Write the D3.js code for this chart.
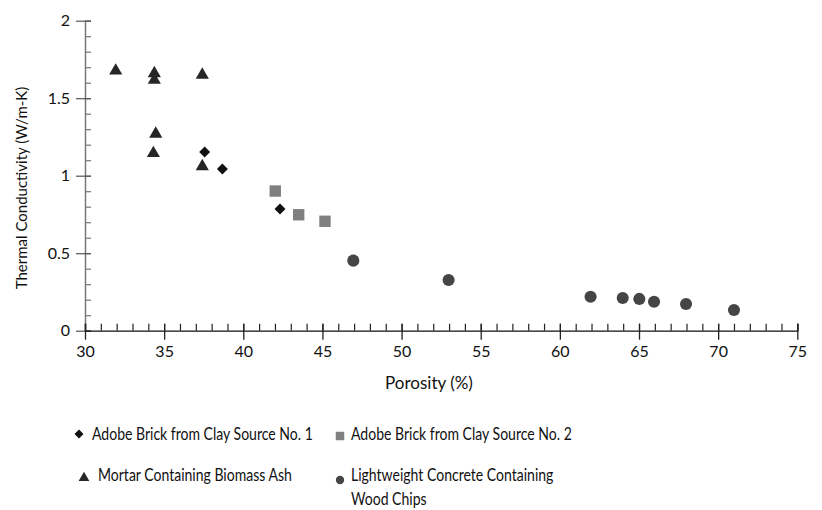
<!DOCTYPE html>
<html><head><meta charset="utf-8">
<script src="https://cdn.jsdelivr.net/npm/d3@7"></script>
<style>body{margin:0;background:#fff;} text{font-family:Lato, "Open Sans", sans-serif;fill:#111;}</style>
</head><body><svg id="c" width="822" height="510"></svg>
<script>
// Data
const adobe1X = [37.56, 38.68, 42.32];
const adobe1Y = [1.153, 1.043, 0.785];
const adobe2X = [42.02, 43.5, 45.16];
const adobe2Y = [0.901, 0.748, 0.706];
const mortarX = [31.94, 34.38, 34.38, 37.41, 34.47, 34.32, 37.41];
const mortarY = [1.677, 1.66, 1.617, 1.65, 1.27, 1.145, 1.06];
const concreteX = [46.95, 52.97, 61.94, 63.97, 65.02, 65.95, 67.97, 71.0];
const concreteY = [0.452, 0.327, 0.219, 0.211, 0.205, 0.187, 0.172, 0.134];
const xTicks = [30, 35, 40, 45, 50, 55, 60, 65, 70, 75];
const yTicks = [0, 0.5, 1, 1.5, 2];
const seriesNames = ["Adobe Brick from Clay Source No. 1", "Adobe Brick from Clay Source No. 2",
  "Mortar Containing Biomass Ash", "Lightweight Concrete Containing Wood Chips"];

const svg = d3.select("#c");
const x = d3.scaleLinear().domain([30, 75]).range([85, 797.3]);
const y = d3.scaleLinear().domain([0, 2]).range([330.7, 20.7]);

// Y axis
const gy = svg.append("g").attr("transform", "translate(85,0)");
gy.call(d3.axisRight(y).tickValues(d3.range(0, 2.001, 0.1)).tickSize(6).tickFormat(""));
gy.select(".domain").attr("stroke", "#777").attr("stroke-width", 1.5);
gy.selectAll(".tick line").attr("stroke", "#777").attr("stroke-width", 1.2);
const gy2 = svg.append("g").attr("transform", "translate(85,0)");
gy2.call(d3.axisLeft(y).tickValues(yTicks).tickSize(9).tickPadding(6).tickFormat(d => d));
gy2.select(".domain").remove();
gy2.selectAll(".tick line").attr("stroke", "#555").attr("stroke-width", 1.2).attr("x2", -9).attr("x1", 6);
gy2.selectAll(".tick text").style("font-size", "16px").attr("fill", "#111").style("font-family", "Lato, sans-serif");

// X axis
const gx = svg.append("g").attr("transform", "translate(0,330.7)");
gx.call(d3.axisTop(x).tickValues(d3.range(30, 75.001, 1)).tickSize(7).tickFormat(""));
gx.select(".domain").attr("stroke", "#111").attr("stroke-width", 1.3);
gx.selectAll(".tick line").attr("stroke", "#222").attr("stroke-width", 1.2);
const gx2 = svg.append("g").attr("transform", "translate(0,330.7)");
gx2.call(d3.axisBottom(x).tickValues(xTicks).tickSize(9).tickPadding(6).tickFormat(d => d));
gx2.select(".domain").remove();
gx2.selectAll(".tick line").attr("stroke", "#222").attr("stroke-width", 1.3).attr("y1", -7);
gx2.selectAll(".tick text").style("font-size", "16px").attr("fill", "#111").style("font-family", "Lato, sans-serif");

// Axis titles
svg.append("g").attr("transform", "translate(27,188) rotate(-90)")
  .append("text").attr("text-anchor", "middle")
  .style("font-size", "15px").text("Thermal Conductivity (W/m-K)");
svg.append("g").attr("transform", "translate(429,389)")
  .append("text").attr("text-anchor", "middle")
  .style("font-size", "17px").text("Porosity (%)");

// Markers
const diamond = {draw(ctx, size) { const r = Math.sqrt(size / 2); ctx.moveTo(0, -r); ctx.lineTo(r, 0); ctx.lineTo(0, r); ctx.lineTo(-r, 0); ctx.closePath(); }};
function drawSeries(xs, ys, type, size, color) {
  const sym = d3.symbol().type(type).size(size);
  svg.append("g").selectAll("path").data(xs.map((v, i) => [v, ys[i]])).join("path")
    .attr("d", sym).attr("fill", color)
    .attr("transform", d => `translate(${x(d[0])},${y(d[1])})`);
}
drawSeries(mortarX, mortarY, d3.symbolTriangle, 75, "#262626");
drawSeries(adobe1X, adobe1Y, diamond, 60, "#111");
drawSeries(adobe2X, adobe2Y, d3.symbolSquare, 130, "#808080");
drawSeries(concreteX, concreteY, d3.symbolCircle, 115, "#454545");

// Legend
const legend = [
  {name: seriesNames[0], type: diamond, size: 40, color: "#111", mx: 79, my: 434, tx: 92, ty: 434},
  {name: seriesNames[1], type: d3.symbolSquare, size: 72, color: "#808080", mx: 340, my: 436, tx: 351, ty: 434},
  {name: seriesNames[2], type: d3.symbolTriangle, size: 50, color: "#262626", mx: 84, my: 478, tx: 98, ty: 475},
  {name: seriesNames[3], type: d3.symbolCircle, size: 55, color: "#454545", mx: 340, my: 480, tx: 351, ty: 475}
];
const lg = svg.append("g").selectAll("g").data(legend).join("g");
lg.append("path").attr("d", d => d3.symbol().type(d.type).size(d.size)()).attr("fill", d => d.color)
  .attr("transform", d => `translate(${d.mx},${d.my})`);
lg.each(function(d) {
  const t = d3.select(this).append("g").attr("transform", `translate(${d.tx},${d.ty}) scale(0.78,1)`)
    .append("text").attr("dy", "0.35em").style("font-size", "18px");
  if (d.name.startsWith("Lightweight")) {
    t.append("tspan").attr("x", 0).text("Lightweight Concrete Containing");
    t.append("tspan").attr("x", 0).attr("dy", "1.34em").text("Wood Chips");
  } else t.text(d.name);
});
</script></body></html>
